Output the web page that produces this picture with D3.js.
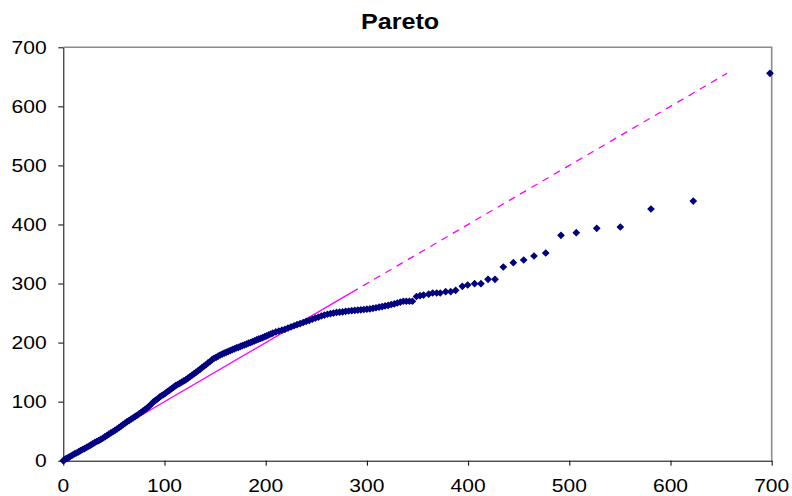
<!DOCTYPE html>
<html>
<head>
<meta charset="utf-8">
<script src="https://cdn.jsdelivr.net/npm/d3@7"></script>
<style>
  body { margin: 0; background: #fff; }
  text { font-family: "Liberation Sans", Arial, sans-serif; }
</style>
</head>
<body>
<div id="chart"></div>
<script>
// data
const xValues = [
  0, 1, 2.5, 4, 5.5, 7, 9, 11, 13, 15, 17, 19, 21, 23, 25, 27, 29, 31, 33, 35,
  37, 39, 41, 43, 45, 47, 49, 51, 53, 55, 57, 59, 61, 63, 65, 67, 69, 71, 73, 75,
  77, 79, 81, 83, 85, 87, 89, 91, 93, 95, 97, 99, 101, 103, 105, 107, 109, 111, 113, 115,
  117, 119, 121, 123, 125, 127, 129, 131, 133, 135, 137, 139, 141, 143, 145, 147, 149, 151, 153, 155,
  157, 159, 161, 163, 165, 167, 169, 171, 173, 175, 177, 179, 181, 183, 185, 187, 189, 191, 193, 195,
  197, 199, 201, 203, 205, 207, 210, 213, 216, 219, 222, 225, 228, 231, 234, 237, 240, 243, 246, 249,
  252, 255, 258, 261, 264, 267, 270, 273, 276, 279, 282, 285, 288, 291, 294, 297, 300, 303, 306, 309,
  312, 315, 318, 321, 324, 327, 330, 333, 336, 339, 342, 345,
  349, 352.5, 356, 361, 365, 369, 372.5, 377.8, 382.8, 387.7, 394.3, 399.6, 406.4, 412.7, 419.7, 426.6,
  434.8, 444.7, 454.9, 465.1, 476.7, 491.8, 506.9, 527.1, 550.4, 580.7, 622.5, 698.3
];
const yValues = [
  0, 1.5, 3, 4.5, 5.5, 7.5, 9.5, 11.5, 13, 15, 17, 19, 20.5, 22.5, 24.5, 26.5, 28.5, 30.5, 32.5, 34,
  36, 38, 40.5, 42.5, 45, 47, 49, 51.5, 53.5, 56, 58.5, 61, 63.5, 66, 68, 70.5, 72.5, 75, 77, 79.5,
  82, 84.5, 87, 89.5, 92.5, 96, 99.5, 102, 104.5, 107.5, 110, 112, 114.5, 117, 119.5, 122, 124.5, 127, 129, 131,
  133, 135, 137, 139.5, 142, 144.5, 147, 149.5, 152, 154.5, 157.5, 160, 162.5, 165.5, 168, 171, 173.5, 175, 177, 179,
  180.5, 182, 183.5, 185, 186.5, 188, 189.5, 191, 192, 193.5, 195, 196, 197.5, 199, 200, 201.5, 203, 204.5, 206, 207,
  208.5, 210, 211.5, 213, 214.5, 216, 218, 219.5, 221, 222.5, 224.5, 226.5, 228.5, 230.5, 232, 234, 236, 237.5, 239.5, 241.5,
  243, 245, 246.5, 248, 249, 250, 251, 251.5, 252, 253, 253.5, 254, 254.5, 255, 255.5, 256, 256.5, 257, 258, 259,
  260, 261, 262, 263, 264.5, 265.5, 267, 268.5, 270, 270, 270, 270,
  278, 279.5, 280.5, 282, 284, 284, 284, 286.2, 286.2, 288.5, 295.3, 297.5, 299.7, 299.7, 307.1, 307.1,
  328, 335.3, 339.8, 346.6, 351.7, 381.6, 386.1, 393.5, 395.7, 426.2, 439.7, 656
];
// reference diagonal (y = x), solid part then dashed part
const refSolid = [0, 285];
const refDashed = [285, 656];
const xTicks = [0, 100, 200, 300, 400, 500, 600, 700];
const yTicks = [0, 100, 200, 300, 400, 500, 600, 700];
const title = "Pareto";

const W = 792, H = 496;
const margin = { top: 47.3, right: 20.3, bottom: 35.3, left: 63.3 };
const stretch = "scale(1.17,1)";

const svg = d3.select("#chart").append("svg")
  .attr("width", W).attr("height", H);

const x = d3.scaleLinear().domain([0, 700]).range([margin.left, W - margin.right]);
const y = d3.scaleLinear().domain([0, 700]).range([H - margin.bottom, margin.top]);

// top / right frame (gray)
svg.append("path")
  .attr("d", `M${x(0)},${y(700)}H${x(700)}V${y(0)}`)
  .attr("fill", "none")
  .attr("stroke", "#8c8c8c")
  .attr("stroke-width", 1.6);

// axes
const xAxis = svg.append("g")
  .attr("transform", `translate(0,${y(0)})`)
  .call(d3.axisBottom(x).tickValues(xTicks).tickSize(5).tickSizeOuter(0).tickFormat(""));
const yAxis = svg.append("g")
  .attr("transform", `translate(${x(0)},0)`)
  .call(d3.axisLeft(y).tickValues(yTicks).tickSize(5).tickSizeOuter(0).tickFormat(""));
[xAxis, yAxis].forEach((g) => {
  g.selectAll("path, line").attr("stroke", "#000").attr("stroke-width", 1);
});

// tick labels
svg.append("g").selectAll("text")
  .data(xTicks).join("text")
  .attr("text-anchor", "middle")
  .attr("font-size", 18)
  .attr("transform", (d) => `translate(${x(d)},491.7) ${stretch}`)
  .text((d) => d);
svg.append("g").selectAll("text")
  .data(yTicks).join("text")
  .attr("text-anchor", "end")
  .attr("font-size", 18)
  .attr("transform", (d) => `translate(46.7,${y(d) + 6.5}) ${stretch}`)
  .text((d) => d);

// title
svg.append("text")
  .attr("text-anchor", "middle")
  .attr("font-size", 21.5)
  .attr("font-weight", "bold")
  .attr("transform", `translate(400,29) ${stretch}`)
  .text(title);

// reference line y = x
svg.append("line")
  .attr("x1", x(refSolid[0])).attr("y1", y(refSolid[0]))
  .attr("x2", x(refSolid[1])).attr("y2", y(refSolid[1]))
  .attr("stroke", "#ff00ff").attr("stroke-width", 1.3);
svg.append("line")
  .attr("x1", x(refDashed[0])).attr("y1", y(refDashed[0]))
  .attr("x2", x(refDashed[1])).attr("y2", y(refDashed[1]))
  .attr("stroke", "#ff00ff").attr("stroke-width", 1.3)
  .attr("stroke-dasharray", "7,6");

// points (diamonds)
const points = xValues.map((v, i) => [v, yValues[i]]);
const diamond = d3.symbol().type(d3.symbolSquare).size(18);
svg.append("g").selectAll("path")
  .data(points).join("path")
  .attr("d", diamond)
  .attr("transform", (d) => `translate(${x(d[0])},${y(d[1])}) rotate(45)`)
  .attr("fill", "#000080")
  .attr("stroke", "#000080")
  .attr("stroke-width", 1.2);
</script>
</body>
</html>
